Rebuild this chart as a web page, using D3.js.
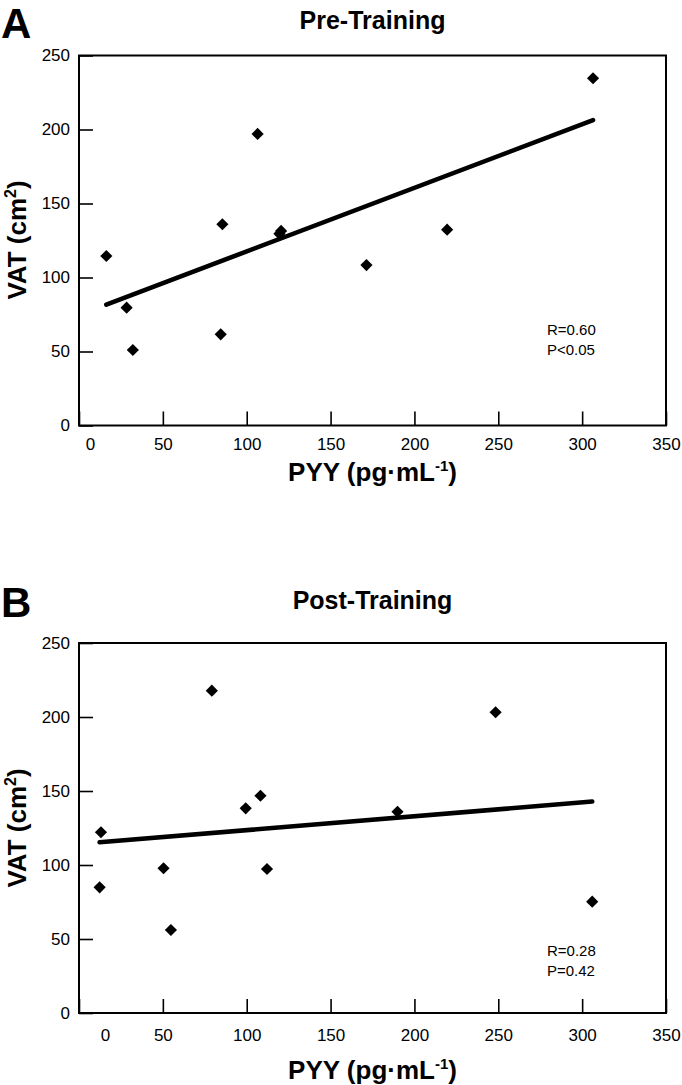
<!DOCTYPE html>
<html>
<head>
<meta charset="utf-8">
<script src="https://cdn.jsdelivr.net/npm/d3@7"></script>
<style>
  body { margin: 0; background: #fff; }
  text { font-family: "Liberation Sans", Arial, Helvetica, sans-serif; fill: #000; }
</style>
</head>
<body>
<svg id="chart" width="682" height="1085"></svg>
<script>
// tick values
const xTicks = [0, 50, 100, 150, 200, 250, 300, 350];
const yTicks = [0, 50, 100, 150, 200, 250];

// Pre-training: PYY vs VAT
const preX = [16.3, 28.4, 32.1, 85.5, 84.5, 106.5, 119.5, 120.5, 171.4, 219.5, 306.5];
const preY = [114.5, 79.6, 51.0, 136.0, 61.6, 197.0, 129.5, 131.5, 108.4, 132.3, 234.6];

// Post-training
const postX = [13.1, 12.3, 50.4, 54.8, 79.2, 99.4, 108.2, 112.1, 189.9, 248.4, 306.0];
const postY = [122.1, 84.9, 97.8, 56.1, 217.8, 138.3, 146.8, 97.3, 136.0, 203.2, 75.2];

const panelLetters = ["A", "B"];
const panelTitles = ["Pre-Training", "Post-Training"];
const statLines = [["R=0.60", "P<0.05"], ["R=0.28", "P=0.42"]];

const svg = d3.select("#chart");
const left = 79, right = 666, plotH = 370;
const x = d3.scaleLinear().domain([0, 350]).range([left, right]);

// least squares fit, drawn over the data range
function fitLine(xs, ys) {
    const mx = d3.mean(xs), my = d3.mean(ys);
    let sxy = 0, sxx = 0;
    xs.forEach((v, i) => {
        sxy += (v - mx) * (ys[i] - my);
        sxx += (v - mx) * (v - mx);
    });
    const b = sxy / sxx, a = my - b * mx;
    const x0 = d3.min(xs), x1 = d3.max(xs);
    return [[x0, a + b * x0], [x1, a + b * x1]];
}

function drawPanel(i, xs, ys, p) {
    const top = p.top, bottom = top + plotH;
    const y = d3.scaleLinear().domain([0, 250]).range([bottom, top]);
    const g = svg.append("g");

    // panel letter + title
    g.append("text").attr("x", 1).attr("y", p.letterY)
        .style("font-size", "42px").style("font-weight", "bold")
        .text(panelLetters[i]);
    g.append("text").attr("x", (left + right) / 2).attr("y", p.titleY)
        .attr("text-anchor", "middle")
        .style("font-size", "25px").style("font-weight", "bold")
        .text(panelTitles[i]);

    // x axis, ticks pointing inward
    const gx = g.append("g").attr("transform", `translate(0,${bottom})`)
        .call(d3.axisBottom(x).tickValues(xTicks).tickSizeInner(-14).tickSizeOuter(0).tickPadding(p.xPad));
    gx.select(".domain").remove();
    gx.selectAll("line").attr("stroke", "#000").attr("stroke-width", 1.6);
    gx.selectAll("text").style("font-size", "17px").attr("fill", "#000")
        .attr("dx", d => d === 0 ? p.zeroDx : 0);

    // y axis
    const gy = g.append("g").attr("transform", `translate(${left},0)`)
        .call(d3.axisLeft(y).tickValues(yTicks).tickSizeInner(-14).tickSizeOuter(0).tickPadding(9));
    gy.select(".domain").remove();
    gy.selectAll("line").attr("stroke", "#000").attr("stroke-width", 1.6);
    gy.selectAll("text").style("font-size", "17px").attr("fill", "#000");

    // frame
    g.append("rect").attr("x", left).attr("y", top)
        .attr("width", right - left).attr("height", plotH)
        .attr("fill", "none").attr("stroke", "#000").attr("stroke-width", 2);

    // regression line
    const fit = fitLine(xs, ys);
    g.append("path")
        .attr("d", d3.line().x(d => x(d[0])).y(d => y(d[1]))(fit))
        .attr("stroke", "#000").attr("stroke-width", 4.6)
        .attr("stroke-linecap", "round").attr("fill", "none");

    // diamond markers
    const sym = d3.symbol().type(d3.symbolSquare).size(74);
    g.selectAll(".pt").data(xs.map((v, k) => [v, ys[k]]))
        .enter().append("path")
        .attr("class", "pt")
        .attr("d", sym)
        .attr("transform", d => `translate(${x(d[0])},${y(d[1])}) rotate(45)`)
        .attr("fill", "#000");

    // stats
    statLines[i].forEach((s, k) => {
        g.append("text").attr("x", 547).attr("y", p.statY + k * 20)
            .style("font-size", "15px").text(s);
    });

    // axis titles
    const xt = g.append("text").attr("x", (left + right) / 2).attr("y", p.xTitleY)
        .attr("text-anchor", "middle")
        .style("font-size", "26px").style("font-weight", "bold");
    xt.append("tspan").text("PYY (pg\u00b7mL");
    xt.append("tspan").attr("dy", -10).style("font-size", "15px").text("-1");
    xt.append("tspan").attr("dy", 10).text(")");

    const yt = g.append("text")
        .attr("transform", `translate(26,${p.yTitleY}) rotate(-90)`)
        .attr("text-anchor", "middle")
        .style("font-size", "26px").style("font-weight", "bold");
    yt.append("tspan").text("VAT (cm");
    yt.append("tspan").attr("dy", -10).style("font-size", "16px").text("2");
    yt.append("tspan").attr("dy", 10).text(")");
}

drawPanel(0, preX, preY, {top: 55.5, letterY: 38, titleY: 29, xPad: 12.5, zeroDx: 11,
    statY: 334.5, xTitleY: 481, yTitleY: 240});
drawPanel(1, postX, postY, {top: 643, letterY: 617, titleY: 609, xPad: 16, zeroDx: 26,
    statY: 955.5, xTitleY: 1079, yTitleY: 828});
</script>
</body>
</html>
